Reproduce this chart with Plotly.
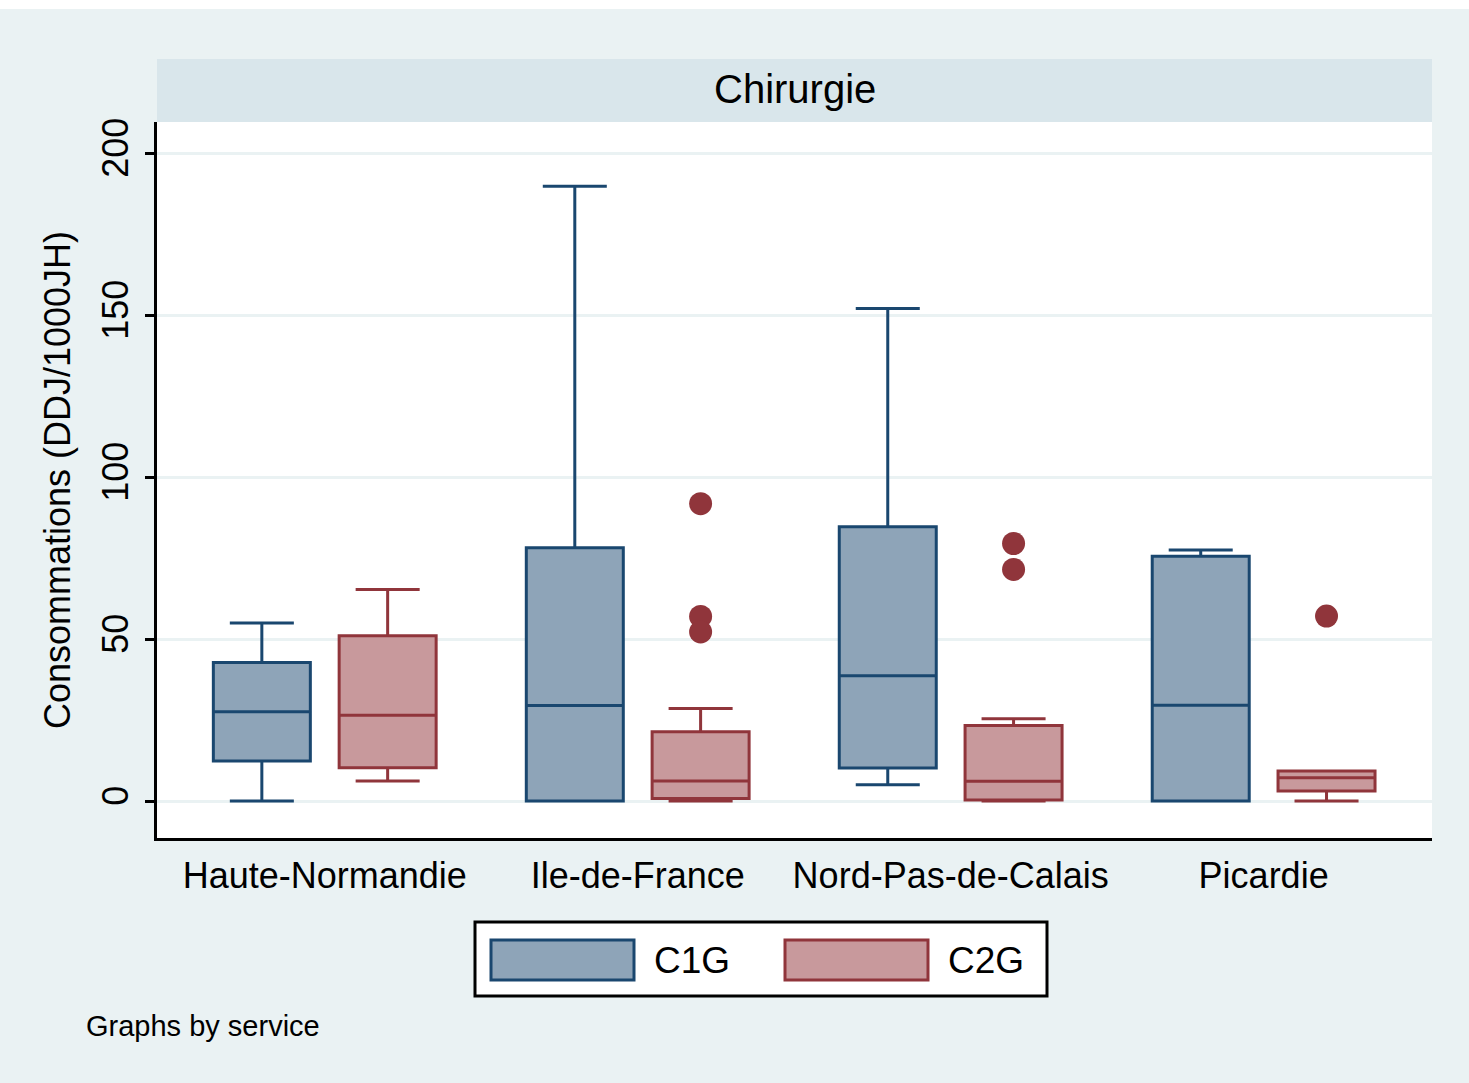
import plotly.graph_objects as go

# regions (x categories)
regions = ["Haute-Normandie", "Ile-de-France", "Nord-Pas-de-Calais", "Picardie"]
pos = [0, 1, 2, 3]

# C1G box stats
c1g_lower = [0.0, 0.0, 5.0, 0.0]
c1g_q1 = [12.4, 0.0, 10.2, 0.0]
c1g_median = [27.6, 29.5, 38.7, 29.6]
c1g_q3 = [42.8, 78.2, 84.7, 75.6]
c1g_upper = [55.0, 189.8, 152.0, 77.5]

# C2G box stats
c2g_lower = [6.2, 0.0, 0.0, 0.0]
c2g_q1 = [10.3, 0.8, 0.3, 3.1]
c2g_median = [26.5, 6.2, 6.1, 7.2]
c2g_q3 = [51.0, 21.4, 23.3, 9.3]
c2g_upper = [65.3, 28.6, 25.4, 9.3]

# C2G outside values
c2g_out_region = [1, 1, 1, 2, 2, 3]
c2g_out_value = [91.8, 57.0, 52.2, 79.5, 71.5, 57.1]

ytick_vals = [0, 50, 100, 150, 200]

NAVY = "#1a476f"
MAROON = "#90353b"
NAVY_FILL = "#8ea4b8"
MAROON_FILL = "#c8999c"
BG = "#eaf2f3"
STRIP = "#d9e6eb"
FONT = "Liberation Sans"

# pixel frame of the plot area
PL, PR, PT, PB = 157, 1432, 122, 838
W, H = 1469, 1083


def fx(p):
    return (p - PL) / (PR - PL)


def fy(p):
    return (PB - p) / (PB - PT)


OFFSET = 0.201  # half distance between the two boxes of a group

fig = go.Figure()

fig.add_trace(go.Box(
    x=pos, q1=c1g_q1, median=c1g_median, q3=c1g_q3,
    lowerfence=c1g_lower, upperfence=c1g_upper,
    name="C1G", boxpoints=False, whiskerwidth=0.66,
    line=dict(color=NAVY, width=3), fillcolor=NAVY_FILL,
    showlegend=False, hoverinfo="skip"))

fig.add_trace(go.Box(
    x=pos, q1=c2g_q1, median=c2g_median, q3=c2g_q3,
    lowerfence=c2g_lower, upperfence=c2g_upper,
    name="C2G", boxpoints=False, whiskerwidth=0.66,
    line=dict(color=MAROON, width=3), fillcolor=MAROON_FILL,
    showlegend=False, hoverinfo="skip"))

fig.add_trace(go.Scatter(
    x=[r + OFFSET for r in c2g_out_region], y=c2g_out_value,
    mode="markers", marker=dict(color=MAROON, size=23),
    showlegend=False, hoverinfo="skip"))

shapes = [
    # thin white band at the top
    dict(type="rect", xref="paper", yref="paper", x0=fx(0), x1=fx(W),
         y0=fy(0), y1=fy(9), fillcolor="white", line_width=0, layer="below"),
    # title strip
    dict(type="rect", xref="paper", yref="paper", x0=fx(157), x1=fx(1432),
         y0=fy(59), y1=fy(122), fillcolor=STRIP, line_width=0, layer="below"),
    # legend box
    dict(type="rect", xref="paper", yref="paper", x0=fx(475), x1=fx(1047),
         y0=fy(922), y1=fy(996), fillcolor="white",
         line=dict(color="black", width=3)),
    dict(type="rect", xref="paper", yref="paper", x0=fx(491), x1=fx(634),
         y0=fy(940), y1=fy(980), fillcolor=NAVY_FILL,
         line=dict(color=NAVY, width=3)),
    dict(type="rect", xref="paper", yref="paper", x0=fx(785), x1=fx(928),
         y0=fy(940), y1=fy(980), fillcolor=MAROON_FILL,
         line=dict(color=MAROON, width=3)),
]

annotations = [
    dict(text="Chirurgie", xref="paper", yref="paper", x=fx(794.5), y=fy(89),
         xanchor="center", yanchor="middle", showarrow=False,
         font=dict(size=40, color="black", family=FONT)),
    dict(text="C1G", xref="paper", yref="paper", x=fx(652), y=fy(960),
         xanchor="left", yanchor="middle", showarrow=False,
         font=dict(size=37, color="black", family=FONT)),
    dict(text="C2G", xref="paper", yref="paper", x=fx(946), y=fy(960),
         xanchor="left", yanchor="middle", showarrow=False,
         font=dict(size=37, color="black", family=FONT)),
    dict(text="Graphs by service", xref="paper", yref="paper", x=fx(84),
         y=fy(1026), xanchor="left", yanchor="middle", showarrow=False,
         font=dict(size=29, color="black", family=FONT)),
]

fig.update_layout(
    width=W, height=H,
    margin=dict(l=PL, r=W - PR, t=PT, b=H - PB, autoexpand=False),
    paper_bgcolor=BG, plot_bgcolor="white",
    boxmode="group", boxgap=0.196, boxgroupgap=0.229,
    font=dict(family=FONT, color="black"),
    shapes=shapes, annotations=annotations,
    xaxis=dict(
        range=[-0.536, 3.538], tickvals=pos, ticktext=regions,
        showgrid=False, zeroline=False, showline=True,
        linecolor="black", linewidth=3, ticks="",
        ticklabelstandoff=4, tickfont=dict(size=36)),
    yaxis=dict(
        range=[-11.4, 209.6], tickvals=ytick_vals,
        showgrid=True, gridcolor=BG, gridwidth=3, zeroline=False,
        showline=True, linecolor="black", linewidth=3,
        ticks="outside", ticklen=9, tickwidth=3, tickcolor="black",
        tickangle=-90, ticklabelstandoff=3, tickfont=dict(size=36),
        title=dict(text="Consommations (DDJ/1000JH)", standoff=13,
                   font=dict(size=36))),
)

fig.write_html("out.html", config={"displayModeBar": False},
               post_script="document.body.style.margin='0';")
